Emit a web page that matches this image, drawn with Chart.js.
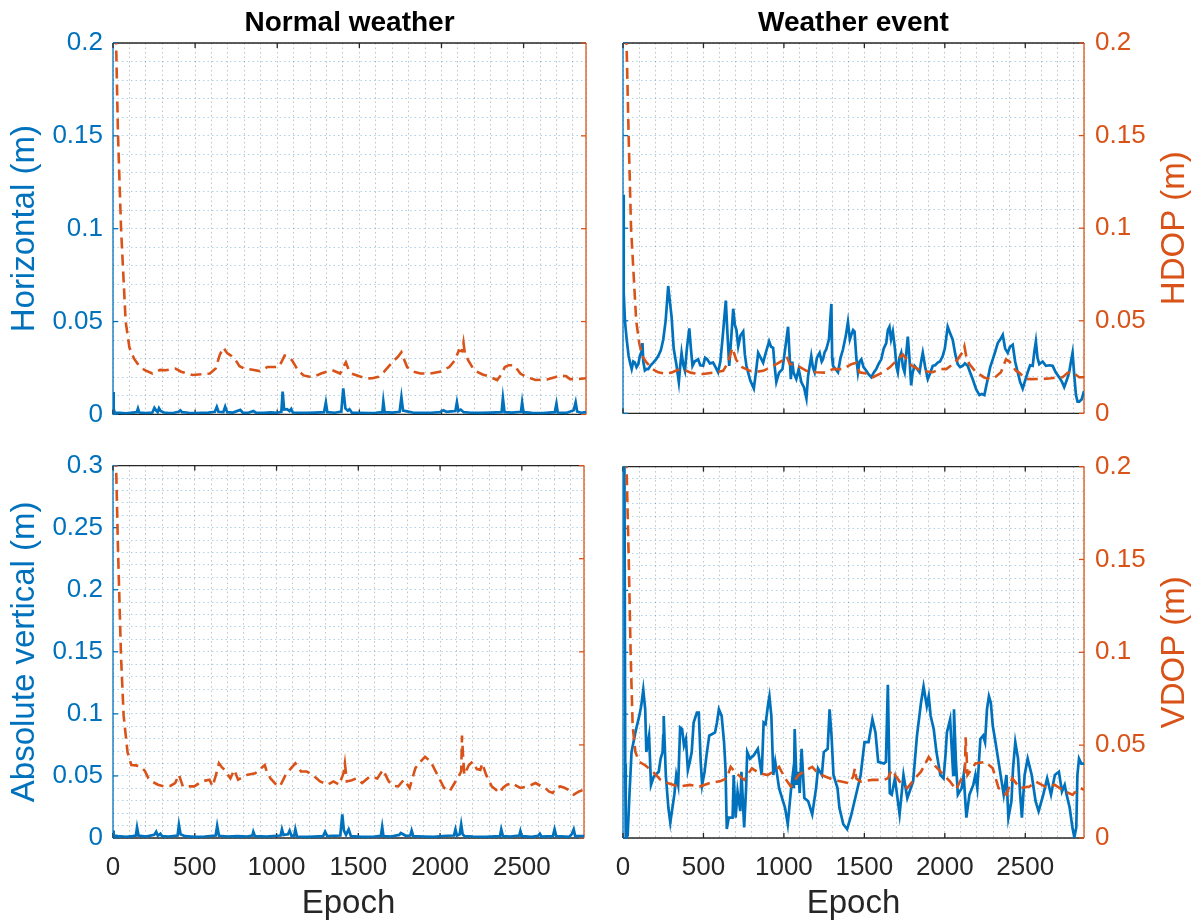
<!DOCTYPE html>
<html>
<head>
<meta charset="utf-8">
<title>Position error and DOP per epoch</title>
<script src="https://cdn.jsdelivr.net/npm/chart.js@4/dist/chart.umd.min.js"></script>
<style>
  html, body { margin: 0; background: #fff; }
  #fig { position: relative; width: 1197px; height: 924px; }
  #fig canvas { position: absolute; }
</style>
</head>
<body>
<div id="fig">
  <canvas id="tl" width="598" height="440" style="left:0;top:0"></canvas>
  <canvas id="tr" width="599" height="440" style="left:598px;top:0"></canvas>
  <canvas id="bl" width="598" height="484" style="left:0;top:440px"></canvas>
  <canvas id="br" width="599" height="484" style="left:598px;top:440px"></canvas>
</div>
<script>
/* 2x2 figure: horizontal / absolute vertical error (left axis, blue) against
   HDOP / VDOP (right axis, orange dashed), normal weather vs a weather event. */

// ---- data: [epoch, metres] ----
const normalHorizErr = [[0,0.012],[4,0.003],[10,0.001],[40,0.0008],[80,0.0006],[120,0.001],[145,0.0012],[152,0.0032],[160,0.001],[200,0.0007],[240,0.001],[252,0.0035],[262,0.0022],[272,0.0012],[280,0.0033],[290,0.0018],[310,0.001],[340,0.0007],[370,0.0009],[400,0.0014],[410,0.0022],[420,0.0012],[460,0.0009],[500,0.0007],[540,0.0009],[580,0.001],[620,0.0014],[632,0.004],[642,0.0014],[672,0.0012],[683,0.0042],[695,0.0012],[730,0.001],[775,0.0024],[790,0.0009],[820,0.0008],[855,0.0018],[870,0.0009],[920,0.0008],[960,0.0011],[1000,0.0009],[1025,0.0014],[1033,0.0123],[1042,0.0026],[1060,0.0028],[1075,0.0018],[1085,0.003],[1095,0.001],[1130,0.0009],[1180,0.0008],[1230,0.001],[1285,0.0012],[1296,0.0065],[1305,0.0012],[1350,0.0009],[1390,0.0015],[1402,0.014],[1415,0.0032],[1430,0.002],[1440,0.0028],[1455,0.0009],[1500,0.0008],[1560,0.0007],[1600,0.0009],[1640,0.0012],[1646,0.007],[1654,0.0012],[1700,0.001],[1745,0.0014],[1756,0.0093],[1766,0.002],[1790,0.0016],[1830,0.0009],[1880,0.0008],[1940,0.0009],[1990,0.0012],[2012,0.0022],[2030,0.0014],[2060,0.0016],[2085,0.0018],[2094,0.0065],[2103,0.0018],[2117,0.0026],[2135,0.0012],[2180,0.0009],[2240,0.0008],[2300,0.001],[2366,0.0012],[2374,0.0088],[2384,0.0012],[2430,0.001],[2484,0.0014],[2491,0.0065],[2499,0.0012],[2550,0.0008],[2620,0.0007],[2690,0.0012],[2700,0.0058],[2708,0.001],[2760,0.0008],[2805,0.0022],[2817,0.0065],[2826,0.0016],[2850,0.0009],[2880,0.0012]];

const normalHdop = [[16,0.26],[19,0.2],[30,0.152],[49,0.1],[77,0.05],[100,0.036],[128,0.03],[160,0.026],[194,0.0238],[240,0.022],[265,0.023],[287,0.024],[320,0.0238],[357,0.0243],[380,0.0246],[415,0.023],[450,0.022],[485,0.0212],[520,0.0215],[560,0.0218],[590,0.022],[625,0.0247],[650,0.032],[672,0.036],[695,0.033],[718,0.0317],[741,0.03],[770,0.026],[800,0.0247],[850,0.024],[893,0.0233],[940,0.0255],[975,0.0255],[1010,0.0255],[1030,0.029],[1045,0.0317],[1070,0.031],[1091,0.029],[1126,0.0238],[1160,0.021],[1197,0.0203],[1230,0.0205],[1267,0.022],[1300,0.023],[1336,0.0238],[1383,0.022],[1405,0.026],[1418,0.028],[1435,0.024],[1453,0.022],[1500,0.0205],[1546,0.0194],[1580,0.0195],[1616,0.0203],[1651,0.023],[1680,0.026],[1710,0.029],[1735,0.031],[1756,0.0335],[1775,0.029],[1791,0.0255],[1830,0.023],[1873,0.022],[1930,0.022],[1990,0.023],[2048,0.0255],[2080,0.029],[2106,0.0344],[2125,0.034],[2134,0.0388],[2142,0.033],[2164,0.029],[2199,0.0238],[2250,0.0215],[2293,0.0203],[2339,0.0185],[2360,0.021],[2386,0.0255],[2410,0.0265],[2444,0.0264],[2480,0.022],[2514,0.0203],[2573,0.0185],[2643,0.0188],[2690,0.02],[2725,0.021],[2760,0.0205],[2783,0.019],[2830,0.019],[2880,0.0195]];

const eventHorizErr = [[0,0.118],[3,0.09],[6,0.065],[12,0.05],[23,0.0398],[35,0.031],[45,0.027],[54,0.0239],[64,0.028],[74,0.0274],[84,0.025],[95,0.0266],[105,0.031],[116,0.0336],[121,0.038],[126,0.028],[136,0.0232],[147,0.024],[157,0.0239],[172,0.026],[188,0.0274],[204,0.029],[219,0.031],[235,0.034],[250,0.0398],[265,0.05],[281,0.0688],[292,0.06],[302,0.0521],[315,0.035],[333,0.0257],[347,0.0169],[356,0.026],[364,0.0327],[375,0.026],[385,0.023],[397,0.035],[412,0.0459],[422,0.035],[432,0.0257],[445,0.028],[467,0.0292],[480,0.026],[498,0.0257],[510,0.03],[523,0.0292],[540,0.027],[560,0.0274],[575,0.025],[591,0.0222],[605,0.028],[618,0.0398],[630,0.052],[639,0.0609],[648,0.045],[660,0.0257],[672,0.04],[685,0.0565],[695,0.048],[705,0.045],[716,0.0362],[730,0.042],[747,0.0442],[757,0.032],[767,0.0257],[790,0.018],[813,0.0134],[826,0.022],[840,0.0327],[856,0.03],[871,0.0274],[888,0.033],[908,0.0389],[920,0.036],[933,0.0354],[943,0.025],[953,0.0169],[970,0.022],[991,0.0239],[1008,0.035],[1026,0.0468],[1036,0.03],[1043,0.0185],[1052,0.028],[1060,0.022],[1077,0.0186],[1092,0.024],[1108,0.0169],[1125,0.014],[1140,0.0081],[1150,0.02],[1170,0.031],[1180,0.025],[1191,0.0222],[1205,0.03],[1222,0.0327],[1235,0.028],[1243,0.0292],[1253,0.033],[1263,0.0345],[1280,0.04],[1295,0.0591],[1300,0.03],[1305,0.0257],[1320,0.024],[1336,0.0222],[1352,0.03],[1367,0.0345],[1385,0.042],[1398,0.0494],[1410,0.04],[1419,0.0424],[1430,0.045],[1439,0.0442],[1450,0.03],[1460,0.0222],[1470,0.028],[1481,0.0292],[1495,0.025],[1512,0.023],[1527,0.021],[1543,0.0195],[1558,0.022],[1574,0.0239],[1590,0.027],[1605,0.0292],[1620,0.035],[1636,0.038],[1646,0.045],[1656,0.0468],[1666,0.04],[1677,0.0442],[1690,0.035],[1700,0.025],[1708,0.0222],[1718,0.03],[1729,0.0327],[1740,0.025],[1750,0.0222],[1760,0.032],[1770,0.0415],[1780,0.03],[1791,0.0151],[1800,0.022],[1812,0.0257],[1828,0.024],[1843,0.0222],[1853,0.028],[1863,0.0327],[1878,0.025],[1894,0.0186],[1910,0.022],[1925,0.0257],[1940,0.026],[1956,0.0274],[1970,0.028],[1987,0.031],[2000,0.035],[2018,0.0468],[2030,0.044],[2049,0.0398],[2065,0.032],[2080,0.0266],[2095,0.025],[2111,0.0257],[2125,0.027],[2142,0.0257],[2158,0.022],[2173,0.0186],[2195,0.013],[2215,0.0099],[2230,0.0105],[2246,0.0099],[2258,0.015],[2267,0.0186],[2282,0.025],[2298,0.0292],[2312,0.033],[2329,0.038],[2345,0.04],[2360,0.0424],[2375,0.035],[2391,0.0327],[2405,0.036],[2422,0.0371],[2437,0.028],[2453,0.0222],[2468,0.017],[2484,0.0134],[2500,0.018],[2515,0.0222],[2530,0.026],[2546,0.0257],[2556,0.033],[2566,0.0389],[2576,0.03],[2587,0.0266],[2608,0.028],[2628,0.0257],[2650,0.026],[2670,0.0257],[2690,0.022],[2711,0.0195],[2728,0.017],[2742,0.0142],[2758,0.018],[2773,0.0222],[2784,0.028],[2794,0.0327],[2805,0.02],[2815,0.0099],[2825,0.0063],[2835,0.0063],[2850,0.0075],[2865,0.012]];

const eventHdop = [[18,0.26],[22,0.2],[35,0.15],[50,0.1],[82,0.05],[101,0.038],[120,0.031],[147,0.0274],[186,0.0238],[219,0.0222],[260,0.0215],[300,0.022],[342,0.0235],[374,0.0239],[420,0.022],[470,0.0213],[498,0.0213],[560,0.022],[622,0.023],[650,0.027],[680,0.0354],[703,0.029],[740,0.025],[788,0.023],[830,0.0225],[871,0.023],[920,0.025],[953,0.0266],[990,0.0285],[1017,0.0308],[1036,0.0266],[1065,0.0264],[1100,0.025],[1140,0.023],[1201,0.0222],[1258,0.022],[1305,0.0239],[1367,0.0239],[1419,0.0266],[1450,0.0273],[1470,0.0222],[1511,0.0215],[1553,0.0195],[1615,0.0222],[1660,0.025],[1687,0.0274],[1739,0.0318],[1765,0.029],[1791,0.026],[1853,0.023],[1925,0.0222],[1970,0.024],[2008,0.0239],[2050,0.0265],[2080,0.0292],[2113,0.0335],[2122,0.0362],[2137,0.029],[2153,0.0266],[2194,0.0222],[2245,0.0194],[2277,0.0186],[2306,0.019],[2349,0.0222],[2380,0.0292],[2402,0.028],[2442,0.023],[2462,0.022],[2504,0.0186],[2535,0.0185],[2608,0.0186],[2660,0.019],[2703,0.0195],[2732,0.0195],[2764,0.022],[2794,0.0222],[2835,0.0195],[2865,0.0195]];

const normalVertErr = [[0,0.006],[4,0.002],[30,0.0015],[80,0.001],[120,0.0015],[140,0.002],[147,0.0085],[156,0.002],[200,0.0012],[252,0.0025],[264,0.005],[274,0.0018],[290,0.0035],[300,0.0015],[340,0.0012],[395,0.002],[403,0.0106],[413,0.003],[440,0.0015],[500,0.001],[560,0.0012],[628,0.002],[637,0.0098],[648,0.0018],[700,0.0012],[760,0.0015],[820,0.0012],[852,0.002],[858,0.005],[868,0.0015],[940,0.0012],[1000,0.0018],[1025,0.002],[1033,0.007],[1042,0.0025],[1070,0.003],[1080,0.006],[1092,0.0015],[1108,0.002],[1115,0.007],[1125,0.0012],[1200,0.001],[1285,0.0015],[1297,0.005],[1310,0.0015],[1390,0.002],[1402,0.019],[1412,0.006],[1425,0.0025],[1441,0.007],[1455,0.0015],[1520,0.001],[1600,0.0012],[1638,0.0018],[1646,0.009],[1654,0.0015],[1700,0.0012],[1750,0.0025],[1760,0.004],[1790,0.0018],[1818,0.002],[1826,0.006],[1836,0.0015],[1900,0.0012],[1960,0.001],[2040,0.0018],[2085,0.002],[2094,0.007],[2103,0.002],[2120,0.003],[2129,0.011],[2138,0.003],[2150,0.0015],[2200,0.0012],[2280,0.001],[2366,0.0015],[2374,0.007],[2384,0.0015],[2430,0.0012],[2484,0.002],[2491,0.0055],[2499,0.0015],[2560,0.001],[2600,0.0018],[2610,0.0035],[2620,0.0012],[2690,0.0015],[2700,0.007],[2710,0.0015],[2790,0.001],[2805,0.003],[2817,0.007],[2826,0.0015],[2880,0.0015]];

const normalVdop = [[16,0.26],[19,0.2],[30,0.157],[49,0.0975],[65,0.0657],[89,0.046],[112,0.0392],[140,0.039],[170,0.0383],[195,0.036],[217,0.032],[245,0.03],[275,0.0286],[310,0.0277],[350,0.028],[380,0.0295],[403,0.034],[427,0.0277],[460,0.0277],[497,0.0277],[543,0.0304],[590,0.0313],[609,0.0277],[630,0.034],[648,0.0401],[665,0.038],[683,0.0366],[718,0.032],[741,0.0366],[765,0.0313],[800,0.033],[823,0.034],[870,0.0348],[893,0.0366],[928,0.0392],[940,0.0357],[963,0.032],[998,0.0286],[1021,0.0277],[1056,0.034],[1080,0.0366],[1115,0.0401],[1150,0.0357],[1185,0.0357],[1220,0.034],[1266,0.0304],[1313,0.0286],[1348,0.0304],[1383,0.0286],[1410,0.035],[1418,0.0401],[1430,0.0304],[1460,0.031],[1488,0.032],[1523,0.0295],[1570,0.033],[1616,0.032],[1651,0.0366],[1686,0.0304],[1715,0.028],[1744,0.0277],[1779,0.0313],[1814,0.0269],[1849,0.0375],[1880,0.041],[1908,0.0436],[1943,0.041],[1989,0.033],[2024,0.0269],[2059,0.0251],[2085,0.029],[2106,0.032],[2129,0.0357],[2134,0.055],[2140,0.045],[2148,0.0339],[2176,0.0392],[2199,0.041],[2225,0.037],[2246,0.0366],[2258,0.0401],[2281,0.034],[2316,0.0277],[2340,0.026],[2362,0.0242],[2385,0.027],[2409,0.0286],[2444,0.0295],[2467,0.028],[2491,0.0269],[2537,0.0277],[2584,0.0295],[2615,0.028],[2643,0.0269],[2665,0.025],[2689,0.0242],[2710,0.027],[2735,0.0277],[2760,0.027],[2782,0.026],[2817,0.0233],[2850,0.025],[2880,0.026]];

const eventVertErr = [[0,0.4],[9,0.3],[14,0.06],[17,0.0005],[29,0.002],[41,0.0376],[53,0.0694],[77,0.0853],[101,0.0986],[113,0.1065],[126,0.1198],[138,0.1039],[145,0.0694],[162,0.0827],[174,0.0429],[191,0.0496],[222,0.0535],[234,0.0641],[246,0.0694],[250,0.0827],[253,0.0986],[266,0.0509],[282,0.0244],[294,0.0125],[319,0.035],[331,0.0509],[343,0.0429],[355,0.0893],[367,0.088],[379,0.0747],[391,0.08],[403,0.0549],[415,0.0615],[427,0.0694],[439,0.0933],[459,0.1012],[471,0.1012],[483,0.0615],[492,0.0429],[507,0.0535],[519,0.0668],[536,0.0827],[555,0.084],[572,0.0853],[584,0.0933],[596,0.1039],[613,0.0986],[628,0.0774],[637,0.0562],[645,0.0072],[657,0.0164],[681,0.0164],[688,0.0509],[700,0.0164],[712,0.0376],[729,0.0217],[736,0.0535],[753,0.0085],[765,0.0403],[772,0.0694],[789,0.0641],[813,0.0668],[838,0.072],[862,0.0509],[874,0.0933],[886,0.092],[903,0.1092],[910,0.1145],[922,0.0986],[934,0.0509],[946,0.0615],[970,0.0403],[1007,0.0244],[1024,0.0111],[1043,0.0376],[1055,0.0509],[1062,0.0403],[1067,0.088],[1079,0.0429],[1091,0.0535],[1098,0.0363],[1110,0.072],[1127,0.0323],[1151,0.0297],[1176,0.0191],[1200,0.0403],[1212,0.0562],[1236,0.0509],[1248,0.0694],[1272,0.072],[1284,0.1039],[1296,0.0827],[1308,0.0509],[1333,0.0403],[1345,0.0244],[1369,0.0111],[1393,0.0072],[1417,0.0178],[1453,0.0376],[1477,0.0509],[1501,0.0774],[1526,0.0774],[1550,0.0959],[1569,0.0853],[1586,0.0615],[1622,0.0601],[1634,0.0615],[1646,0.1237],[1658,0.0363],[1670,0.035],[1690,0.0482],[1719,0.0191],[1743,0.0509],[1767,0.0323],[1803,0.0456],[1827,0.0827],[1852,0.1092],[1868,0.1224],[1888,0.1065],[1900,0.1145],[1912,0.0986],[1931,0.088],[1948,0.0694],[1972,0.0509],[1992,0.0482],[2004,0.0668],[2013,0.0853],[2033,0.0959],[2052,0.0509],[2057,0.1039],[2069,0.0615],[2081,0.035],[2105,0.0403],[2117,0.0509],[2134,0.0164],[2153,0.035],[2177,0.0429],[2190,0.0509],[2202,0.0403],[2221,0.08],[2238,0.0827],[2250,0.0774],[2262,0.1039],[2274,0.1145],[2286,0.1092],[2298,0.0906],[2315,0.0774],[2334,0.0615],[2366,0.035],[2383,0.0509],[2395,0.0164],[2414,0.0297],[2424,0.0562],[2438,0.0774],[2455,0.0641],[2467,0.0376],[2479,0.0164],[2496,0.0509],[2515,0.0641],[2540,0.0509],[2564,0.0297],[2583,0.0217],[2612,0.035],[2636,0.0482],[2660,0.035],[2684,0.0509],[2709,0.0535],[2728,0.0376],[2745,0.0429],[2757,0.035],[2776,0.0244],[2793,0.0085],[2805,0.0005],[2817,0.0085],[2824,0.0509],[2834,0.0641],[2848,0.0601],[2865,0.0601]];

const eventVdop = [[20,0.26],[22,0.2],[36,0.1488],[48,0.0975],[60,0.0604],[77,0.0463],[101,0.041],[138,0.0392],[186,0.0357],[234,0.0313],[282,0.0295],[343,0.0277],[415,0.0286],[475,0.0277],[536,0.0295],[608,0.0307],[645,0.0322],[669,0.0383],[705,0.0348],[753,0.0313],[801,0.0375],[850,0.0348],[898,0.0339],[934,0.0357],[970,0.0383],[1007,0.0322],[1043,0.0277],[1091,0.0339],[1139,0.0366],[1176,0.0383],[1212,0.0348],[1260,0.033],[1308,0.0313],[1357,0.0304],[1405,0.0295],[1430,0.033],[1441,0.0375],[1450,0.032],[1477,0.0304],[1550,0.0313],[1622,0.0313],[1646,0.0322],[1670,0.0366],[1719,0.0304],[1767,0.0269],[1815,0.0322],[1852,0.0357],[1900,0.0436],[1936,0.0392],[1984,0.0348],[2033,0.0304],[2069,0.026],[2105,0.0322],[2125,0.034],[2129,0.0542],[2135,0.045],[2141,0.0339],[2190,0.0401],[2250,0.041],[2298,0.0375],[2334,0.0269],[2383,0.0233],[2419,0.0322],[2467,0.0269],[2527,0.0277],[2564,0.0304],[2624,0.0277],[2684,0.0286],[2745,0.0251],[2793,0.0233],[2841,0.0269],[2865,0.026]];

// axis ranges
const HORIZ_MAX = 0.2, VERT_MAX = 0.3, DOP_MAX = 0.2;
const EPOCH_MAX_NORMAL = 2880, EPOCH_MAX_EVENT = 2865;

const BLUE = "#0072BD", ORANGE = "#D95319", AX = "#262626";
const FONT = '"Liberation Sans", Arial, Helvetica, sans-serif';
Chart.defaults.font.family = FONT;

const pts = a => a.map(([x, y]) => ({ x, y }));
const isMajorY = v => Math.round(v * 100) % 5 === 0;           // labelled every 0.05, minor grid every 0.01
const fmtY = v => (isMajorY(v) ? String(Math.round(v * 100) / 100) : "");
const fmtX = v => (v % 500 === 0 ? String(v) : "");

/* Box outline + inward tick marks (left axis blue, right axis orange) and the
   right-hand axis label, which reads bottom-to-top like the left one. */
const frame = {
  id: "frame",
  beforeDatasetsDraw(chart) {
    const { ctx, chartArea: a, scales: { x, y, y1 } } = chart;
    const seg = (c, x0, y0, x1, y1_) => {
      ctx.strokeStyle = c; ctx.beginPath(); ctx.moveTo(x0, y0); ctx.lineTo(x1, y1_); ctx.stroke();
    };
    const T = 5;
    ctx.save();
    ctx.lineWidth = 1.3;
    seg(AX, a.left, a.top, a.right, a.top);
    seg(AX, a.left, a.bottom, a.right, a.bottom);
    seg(BLUE, a.left, a.top, a.left, a.bottom);
    seg(ORANGE, a.right, a.top, a.right, a.bottom);
    x.ticks.filter(t => t.value % 500 === 0).forEach(t => {
      const p = x.getPixelForValue(t.value);
      seg(AX, p, a.bottom, p, a.bottom - T);
      seg(AX, p, a.top, p, a.top + T);
    });
    y.ticks.filter(t => isMajorY(t.value)).forEach(t => {
      const p = y.getPixelForValue(t.value);
      seg(BLUE, a.left, p, a.left + T, p);
    });
    y1.ticks.forEach(t => {
      const p = y1.getPixelForValue(t.value);
      seg(ORANGE, a.right, p, a.right - T, p);
    });
    ctx.restore();
  },
  afterDraw(chart, args, opts) {
    if (!opts.text) return;
    const { ctx, chartArea: a } = chart;
    ctx.save();
    ctx.translate(a.right + 91, (a.top + a.bottom) / 2);
    ctx.rotate(-Math.PI / 2);
    ctx.fillStyle = ORANGE;
    ctx.font = `33px ${FONT}`;
    ctx.textAlign = "center";
    ctx.textBaseline = "middle";
    ctx.fillText(opts.text, 0, 0);
    ctx.restore();
  },
};

function panel(id, o) {
  const leftCol = o.col === 0;
  const leftW = leftCol ? 113 : 25, rightW = leftCol ? 12 : 113;
  return new Chart(document.getElementById(id), {
    type: "line",
    data: {
      datasets: [
        { label: o.dopName, data: pts(o.dop), yAxisID: "y1", borderColor: ORANGE, borderWidth: 2.6,
          borderDash: [11, 6], pointRadius: 0, tension: 0 },
        { label: o.errName, data: pts(o.err), yAxisID: "y", borderColor: BLUE, borderWidth: 2.7,
          pointRadius: 0, tension: 0 },
      ],
    },
    options: {
      responsive: false, animation: false, devicePixelRatio: 1,
      layout: { padding: { top: o.bottom ? 20 : 0 } },
      plugins: {
        legend: { display: false }, tooltip: { enabled: false },
        title: { display: !!o.title, text: o.title, fullSize: false, color: "#000",
          font: { size: 28, weight: "bold" }, padding: { top: 6, bottom: 3.4 } },
        frame: { text: leftCol ? "" : o.dopName },
      },
      scales: {
        x: {
          type: "linear", min: 0, max: o.xMax, bounds: "data",
          afterFit: s => { s.height = o.bottom ? 86 : 18; },
          grid: { color: "rgba(38,38,38,0.28)", lineWidth: 1, drawTicks: false },
          border: { display: false, dash: [1.5, 3] },
          ticks: { display: o.bottom, stepSize: 100, includeBounds: false, autoSkip: false, maxRotation: 0,
            padding: 14, color: AX, font: { size: 26 }, callback: fmtX },
          title: { display: o.bottom, text: "Epoch", color: AX, font: { size: 33 }, padding: { top: 0, bottom: 0 } },
        },
        y: {
          position: "left", min: 0, max: o.errMax,
          afterFit: s => { s.width = leftW; },
          grid: { color: "rgba(0,114,189,0.32)", lineWidth: 1, drawTicks: false },
          border: { display: false, dash: [1.5, 3] },
          ticks: { display: leftCol, stepSize: 0.01, autoSkip: false, padding: 10, color: BLUE,
            font: { size: 26 }, callback: fmtY },
          title: { display: leftCol, text: o.errName, color: BLUE, font: { size: 33 }, padding: { top: 5, bottom: 0 } },
        },
        y1: {
          position: "right", min: 0, max: DOP_MAX,
          afterFit: s => { s.width = rightW; },
          grid: { drawOnChartArea: false, drawTicks: false },
          border: { display: false },
          ticks: { display: !leftCol, stepSize: 0.05, autoSkip: false, padding: 11, color: ORANGE,
            font: { size: 26 }, callback: fmtY },
        },
      },
    },
    plugins: [frame],
  });
}

panel("tl", { col: 0, bottom: false, title: "Normal weather", err: normalHorizErr, dop: normalHdop,
  errMax: HORIZ_MAX, xMax: EPOCH_MAX_NORMAL, errName: "Horizontal (m)", dopName: "HDOP (m)" });
panel("tr", { col: 1, bottom: false, title: "Weather event", err: eventHorizErr, dop: eventHdop,
  errMax: HORIZ_MAX, xMax: EPOCH_MAX_EVENT, errName: "Horizontal (m)", dopName: "HDOP (m)" });
panel("bl", { col: 0, bottom: true, err: normalVertErr, dop: normalVdop,
  errMax: VERT_MAX, xMax: EPOCH_MAX_NORMAL, errName: "Absolute vertical (m)", dopName: "VDOP (m)" });
panel("br", { col: 1, bottom: true, err: eventVertErr, dop: eventVdop,
  errMax: VERT_MAX, xMax: EPOCH_MAX_EVENT, errName: "Absolute vertical (m)", dopName: "VDOP (m)" });
</script>
</body>
</html>
